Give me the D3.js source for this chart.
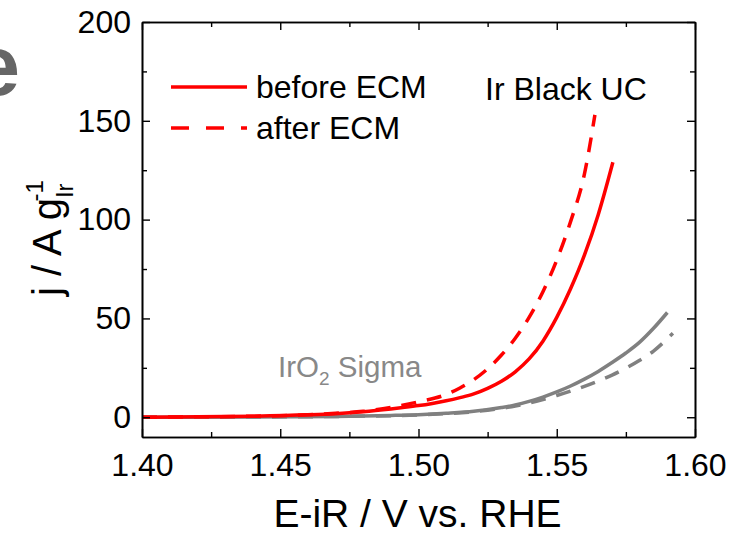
<!DOCTYPE html>
<html>
<head>
<meta charset="utf-8">
<script src="https://cdn.jsdelivr.net/npm/d3@7"></script>
<style>
  body { margin: 0; background: #fff; }
  svg { display: block; font-family: "Liberation Sans", Arial, sans-serif; }
</style>
</head>
<body>
<script>
// potential (V vs RHE) and current density (A/g Ir)
const irBlackBeforeE = [1.40, 1.42, 1.44, 1.46, 1.47, 1.48, 1.49, 1.495, 1.50, 1.505, 1.51, 1.515, 1.52, 1.525, 1.53, 1.535, 1.54, 1.545, 1.55, 1.555, 1.56, 1.565, 1.5703];
const irBlackBeforeJ = [0, 0.2, 0.5, 1.2, 1.8, 2.8, 4.2, 5.0, 5.9, 7.0, 8.3, 9.9, 11.8, 14.6, 18.2, 23, 29.5, 38.5, 50.5, 65, 82, 102.5, 129];

const irBlackAfterE = [1.40, 1.42, 1.44, 1.46, 1.47, 1.48, 1.49, 1.50, 1.51, 1.515, 1.52, 1.525, 1.53, 1.535, 1.54, 1.545, 1.55, 1.555, 1.56, 1.5638];
const irBlackAfterJ = [0, 0.2, 0.5, 1.2, 2.0, 3.0, 5.0, 7.8, 11.5, 14.8, 19, 24.5, 31.5, 40, 50.5, 63.5, 79.5, 99, 123, 153];

const iro2BeforeE = [1.40, 1.44, 1.47, 1.49, 1.50, 1.51, 1.52, 1.53, 1.535, 1.54, 1.545, 1.55, 1.555, 1.56, 1.565, 1.57, 1.575, 1.58, 1.585, 1.59];
const iro2BeforeJ = [0, 0.1, 0.4, 0.9, 1.3, 2.0, 3.0, 4.9, 6.2, 8.0, 10.2, 12.8, 15.8, 19.3, 23.2, 27.7, 32.5, 38, 45, 53];

const iro2AfterE = [1.40, 1.44, 1.47, 1.49, 1.50, 1.51, 1.52, 1.53, 1.535, 1.54, 1.545, 1.55, 1.555, 1.56, 1.565, 1.57, 1.575, 1.58, 1.585, 1.592];
const iro2AfterJ = [0, 0.1, 0.4, 0.8, 1.2, 1.8, 2.8, 4.5, 5.7, 7.2, 9.0, 11.0, 13.2, 15.6, 18.3, 21.3, 24.8, 28.8, 33.5, 42.5];

const xTicks = [1.40, 1.45, 1.50, 1.55, 1.60];
const xMinor = [1.425, 1.475, 1.525, 1.575];
const yTicks = [0, 50, 100, 150, 200];
const yMinor = [25, 75, 125, 175];

const legendLabels = ["before ECM", "after ECM"];

const width = 740, height = 533;
const plotLeft = 142, plotRight = 695, plotTop = 22, plotBottom = 437;

const svg = d3.select("body").append("svg")
  .attr("width", width)
  .attr("height", height);

const x = d3.scaleLinear().domain([1.40, 1.60]).range([plotLeft, plotRight]);
const y = d3.scaleLinear().domain([-10, 200]).range([plotBottom, plotTop]);

// clip curves to the frame
svg.append("clipPath").attr("id", "plot")
  .append("rect")
  .attr("x", plotLeft).attr("y", plotTop)
  .attr("width", plotRight - plotLeft).attr("height", plotBottom - plotTop);

const line = d3.line()
  .x(d => x(d[0]))
  .y(d => y(d[1]))
  .curve(d3.curveMonotoneX);

const series = [
  { e: iro2AfterE, j: iro2AfterJ, color: "#808080", dash: "15,11" },
  { e: iro2BeforeE, j: iro2BeforeJ, color: "#808080", dash: null },
  { e: irBlackBeforeE, j: irBlackBeforeJ, color: "#ff0000", dash: null },
  { e: irBlackAfterE, j: irBlackAfterJ, color: "#ff0000", dash: "15,11" },
];

const curves = svg.append("g").attr("clip-path", "url(#plot)");
series.forEach(s => {
  curves.append("path")
    .datum(s.e.map((v, i) => [v, s.j[i]]))
    .attr("d", line)
    .attr("fill", "none")
    .attr("stroke", s.color)
    .attr("stroke-width", 3.5)
    .attr("stroke-dasharray", s.dash);
});

// axes: ticks pointing inwards, mirrored on top and right
function drawAxis(axis, transform, labels) {
  const g = svg.append("g").attr("transform", transform);
  g.call(axis);
  g.select(".domain").attr("stroke", "#000").attr("stroke-width", 1.6);
  g.selectAll(".tick line").attr("stroke", "#000").attr("stroke-width", 1.4);
  g.selectAll("text").attr("fill", "#000").attr("font-size", 32)
    .attr("font-family", "Liberation Sans, Arial, sans-serif");
  if (!labels) g.selectAll("text").remove();
  return g;
}

const fmtX = d3.format(".2f");

drawAxis(d3.axisBottom(x).tickValues(xTicks).tickFormat(fmtX).tickSizeInner(-8).tickSizeOuter(0).tickPadding(16),
  `translate(0,${plotBottom})`, true);
drawAxis(d3.axisBottom(x).tickValues(xMinor).tickSizeInner(-5).tickSizeOuter(0),
  `translate(0,${plotBottom})`, false);
drawAxis(d3.axisTop(x).tickValues(xTicks).tickSizeInner(-8).tickSizeOuter(0),
  `translate(0,${plotTop})`, false);
drawAxis(d3.axisTop(x).tickValues(xMinor).tickSizeInner(-5).tickSizeOuter(0),
  `translate(0,${plotTop})`, false);

drawAxis(d3.axisLeft(y).tickValues(yTicks).tickSizeInner(-8).tickSizeOuter(0).tickPadding(11),
  `translate(${plotLeft},0)`, true);
drawAxis(d3.axisLeft(y).tickValues(yMinor).tickSizeInner(-5).tickSizeOuter(0),
  `translate(${plotLeft},0)`, false);
drawAxis(d3.axisRight(y).tickValues(yTicks).tickSizeInner(-8).tickSizeOuter(0),
  `translate(${plotRight},0)`, false);
drawAxis(d3.axisRight(y).tickValues(yMinor).tickSizeInner(-5).tickSizeOuter(0),
  `translate(${plotRight},0)`, false);

// axis titles
svg.append("text")
  .attr("x", (plotLeft + plotRight) / 2 - 1)
  .attr("y", 527)
  .attr("text-anchor", "middle")
  .attr("font-size", 39)
  .text("E-iR / V vs. RHE");

const yTitle = svg.append("text")
  .attr("transform", "translate(61,238) rotate(-90)")
  .attr("text-anchor", "middle")
  .attr("font-size", 40);
yTitle.append("tspan").text("j / A g");
yTitle.append("tspan").attr("font-size", 24).attr("dy", 12).text("Ir");
yTitle.append("tspan").attr("font-size", 24).attr("dx", -18).attr("dy", -30).text("-1");

// panel letter, cut off at the left edge
svg.append("text")
  .attr("x", 20)
  .attr("y", 95)
  .attr("text-anchor", "end")
  .attr("font-size", 86)
  .attr("font-weight", "bold")
  .attr("fill", "#666")
  .text("e");

// legend
legendLabels.forEach((lbl, i) => {
  const ly = 87 + i * 41;
  svg.append("line")
    .attr("x1", 171).attr("x2", 247)
    .attr("y1", ly).attr("y2", ly)
    .attr("stroke", "#ff0000")
    .attr("stroke-width", 3.5)
    .attr("stroke-dasharray", i === 1 ? "18,17" : null);
  svg.append("text")
    .attr("x", 256)
    .attr("y", ly + 11)
    .attr("font-size", 32)
    .text(lbl);
});

svg.append("text")
  .attr("x", 485)
  .attr("y", 100)
  .attr("font-size", 32)
  .text("Ir Black UC");

const iro2 = svg.append("text")
  .attr("x", 278)
  .attr("y", 377)
  .attr("font-size", 29.5)
  .attr("fill", "#888");
iro2.append("tspan").text("IrO");
iro2.append("tspan").attr("font-size", 19).attr("dy", 8).text("2");
iro2.append("tspan").attr("dy", -8).text(" Sigma");
</script>
</body>
</html>
